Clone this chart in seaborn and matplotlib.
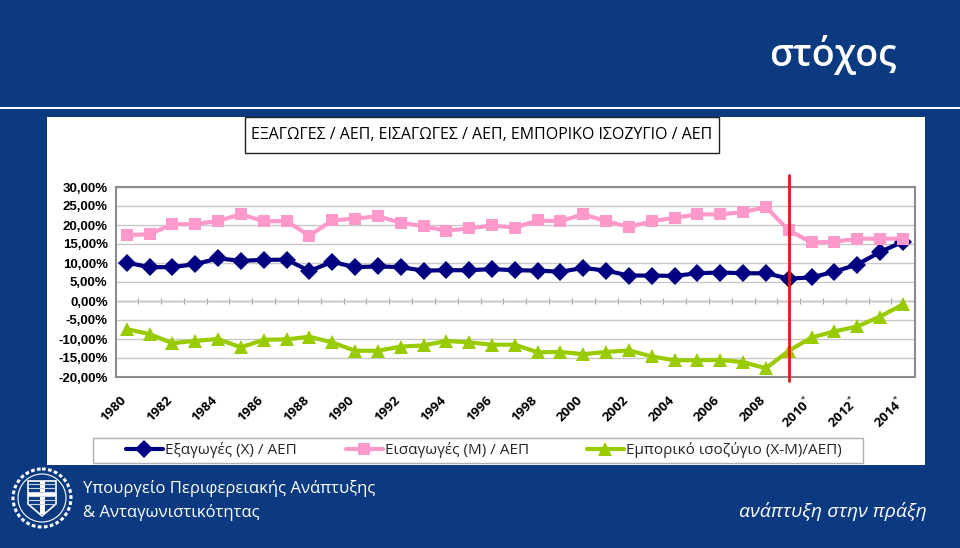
import numpy as np
import pandas as pd
import matplotlib
matplotlib.use("Agg")
import matplotlib.pyplot as plt
import matplotlib.transforms as mtransforms
import seaborn as sns
from matplotlib.patches import Rectangle, Circle, Polygon

# ---------------- data ----------------
years = list(range(1980, 2015))
exports = [10.1, 8.9, 8.9, 9.7, 11.2, 10.6, 10.8, 10.9, 7.9, 10.3, 8.9, 9.1, 8.9, 8.0, 8.1, 8.1, 8.4,
           8.1, 8.0, 7.7, 8.7, 8.0, 6.7, 6.7, 6.6, 7.3, 7.5, 7.3, 7.3, 5.9, 6.2, 7.7, 9.6, 12.9, 15.6]
imports = [17.3, 17.6, 20.2, 20.2, 21.1, 22.8, 21.0, 21.0, 17.2, 21.2, 21.7, 22.3, 20.6, 19.7, 18.5, 19.1, 19.9,
           19.3, 21.2, 21.0, 22.8, 21.0, 19.5, 21.0, 21.9, 22.8, 22.8, 23.4, 24.7, 18.6, 15.4, 15.6, 16.4, 16.4, 16.4]
balance = [-7.4, -8.7, -11.1, -10.5, -10.0, -12.2, -10.2, -10.1, -9.4, -10.9, -13.1, -13.1, -12.0, -11.7, -10.5, -10.9, -11.5,
           -11.5, -13.5, -13.4, -14.0, -13.4, -13.0, -14.6, -15.6, -15.6, -15.5, -16.1, -17.7, -13.1, -9.6, -8.0, -6.7, -4.1, -0.9]
series_names = ["Εξαγωγές (Χ) / ΑΕΠ", "Εισαγωγές (Μ) / ΑΕΠ", "Εμπορικό ισοζύγιο (Χ-Μ)/ΑΕΠ)"]
xtick_labels = ["1980", "1982", "1984", "1986", "1988", "1990", "1992", "1994", "1996", "1998",
                "2000", "2002", "2004", "2006", "2008", "2010*", "2012*", "2014*"]
ytick_values = [30, 25, 20, 15, 10, 5, 0, -5, -10, -15, -20]
ytick_labels = ["30,00%", "25,00%", "20,00%", "15,00%", "10,00%", "5,00%", "0,00%",
                "-5,00%", "-10,00%", "-15,00%", "-20,00%"]
chart_title = "ΕΞΑΓΩΓΕΣ / ΑΕΠ, ΕΙΣΑΓΩΓΕΣ / ΑΕΠ, ΕΜΠΟΡΙΚΟ ΙΣΟΖΥΓΙΟ / ΑΕΠ"
slide_title = "στόχος"
ministry_lines = ["Υπουργείο Περιφερειακής Ανάπτυξης", "& Ανταγωνιστικότητας"]
slogan = "ανάπτυξη στην πράξη"
estimate_start = 2009

colors = ["#000080", "#ff99cc", "#99cc00"]
markers = ["D", "s", "^"]
slide_blue = "#0b3a80"

# ---------------- figure ----------------
sns.set_theme(style="white")
plt.rcParams["font.family"] = ["Open Sans", "DejaVu Sans"]

W, H = 960, 548
fig = plt.figure(figsize=(9.6, 5.48), dpi=100, facecolor=slide_blue)


def fx(p):
    return p / W


def fy(p):
    return 1 - p / H


# top separator line and white panel (behind the chart axes)
fig.add_artist(Rectangle((0, fy(109)), 1, 2 / H, transform=fig.transFigure,
                         facecolor="white", lw=0, zorder=-10))
fig.add_artist(Rectangle((fx(47), fy(465)), (925 - 47) / W, (465 - 117) / H,
                         transform=fig.transFigure, facecolor="white", lw=0, zorder=-10))

# slide title
fig.text(fx(897), fy(66), slide_title, ha="right", va="baseline", color="white",
         fontsize=27, fontweight="semibold")

# chart title box
fig.add_artist(Rectangle((fx(245), fy(153)), (719 - 245) / W, (153 - 117) / H,
                         transform=fig.transFigure, facecolor="white",
                         edgecolor="#222222", lw=1.0, zorder=-5))
fig.text(fx(482), fy(135), chart_title, ha="center", va="center", color="black",
         fontsize=11.5)

# ---------------- chart ----------------
ax = fig.add_axes([fx(116), fy(377), (915 - 116) / W, (377 - 187) / H])
ax.set_facecolor("white")

pos = np.arange(len(years))
df = pd.DataFrame({
    "pos": np.concatenate([pos, pos, pos]),
    "value": exports + imports + balance,
    "series": [series_names[0]] * len(years) + [series_names[1]] * len(years)
              + [series_names[2]] * len(years),
})

sns.lineplot(data=df, x="pos", y="value", hue="series", style="series",
             hue_order=series_names, style_order=series_names,
             palette=colors, markers=markers, dashes=False, errorbar=None,
             linewidth=3.0, markersize=9, markeredgewidth=0, legend=False,
             ax=ax, zorder=3)

series_lines = list(ax.lines[:3])
series_lines[2].set_markersize(10)

ax.set_xlim(-0.47, len(years) - 1 + 0.53)
ax.set_ylim(-20, 30)
ax.tick_params(axis="both", length=0)
ax.tick_params(axis="y", pad=6)
ax.tick_params(axis="x", pad=12)
ax.set_yticks(ytick_values)
ax.set_yticklabels(ytick_labels, fontfamily=["Liberation Sans", "DejaVu Sans"],
                   fontweight="bold", fontsize=9.5, color="black")
ax.set_xticks(pos[::2])
display_labels = [t.replace("*", r"$^{*}$") for t in xtick_labels]
ax.set_xticklabels(display_labels, rotation=45, ha="right", rotation_mode="anchor",
                   fontweight="bold", fontsize=9.5, color="black")
shift = mtransforms.ScaledTranslation(-7 / 100, 0, fig.dpi_scale_trans)
for lbl in ax.get_xticklabels():
    lbl.set_transform(lbl.get_transform() + shift)
ax.set_xlabel("")
ax.set_ylabel("")

ax.yaxis.grid(True, color="#c8c8c8", lw=1.0)
ax.xaxis.grid(False)
ax.set_axisbelow(True)
for sp in ax.spines.values():
    sp.set_visible(True)
    sp.set_color("#8c8c8c")
    sp.set_linewidth(1.5)

# category axis along zero line with small tick marks between categories
zero_frac = (0 - (-20)) / (30 - (-20))
sec = ax.secondary_xaxis(zero_frac)
sec.set_xticks(np.arange(-0.5, len(years), 1.0))
sec.set_xticklabels([])
sec.tick_params(axis="x", which="both", direction="inout", length=5, width=0.8,
                color="#a0a0a0", bottom=True, top=False, labelbottom=False, labeltop=False)
for sp in sec.spines.values():
    sp.set_color("#a0a0a0")
    sp.set_linewidth(1.0)

# red vertical marker at start of estimates
ax.axvline(years.index(estimate_start), ymin=-0.02, ymax=1.065, color="#e3161d",
           lw=2.0, clip_on=False, zorder=6)

# ---------------- legend ----------------
fig.add_artist(Rectangle((fx(93), fy(463)), (863 - 93) / W, (463 - 438) / H,
                         transform=fig.transFigure, facecolor="white",
                         edgecolor="#b0b0b0", lw=1.0, zorder=-5))
legend_x = [126, 346, 587]
for line, name, lx in zip(series_lines, series_names, legend_x):
    fig.legend([line], [name], loc="center left",
               bbox_to_anchor=(fx(lx), fy(450)), frameon=False,
               fontsize=11, handlelength=2.4, handletextpad=0.15,
               borderaxespad=0, borderpad=0)

# ---------------- footer ----------------
fig.text(fx(83), fy(493), ministry_lines[0], ha="left", va="baseline", color="white",
         fontsize=12)
fig.text(fx(83), fy(517), ministry_lines[1], ha="left", va="baseline", color="white",
         fontsize=12)
fig.text(fx(927), fy(517), slogan, ha="right", va="baseline", color="white",
         fontsize=14, fontstyle="italic")

# emblem
lax = fig.add_axes([fx(10), fy(530), 64 / W, 64 / H])
lax.set_xlim(0, 64)
lax.set_ylim(64, 0)
lax.axis("off")
lax.add_patch(Circle((32, 32), 29, fill=False, edgecolor="white", lw=2.2, ls=(0, (1.2, 0.8))))
lax.add_patch(Circle((32, 32), 24, fill=False, edgecolor="white", lw=0.8))
shield = Polygon([(18, 15), (46, 15), (46, 38), (32, 50), (18, 38)], closed=True,
                 facecolor=slide_blue, edgecolor="white", lw=1.2)
lax.add_patch(shield)
for yy in (18, 22, 26, 30, 34, 38):
    lax.plot([19, 45], [yy, yy], color="#c9d3e6", lw=0.8)
lax.add_patch(Rectangle((29.5, 15), 5, 33, facecolor="white", lw=0))
lax.add_patch(Rectangle((18, 26), 28, 5, facecolor="white", lw=0))

fig.savefig("out.png", dpi=100, facecolor=slide_blue)
